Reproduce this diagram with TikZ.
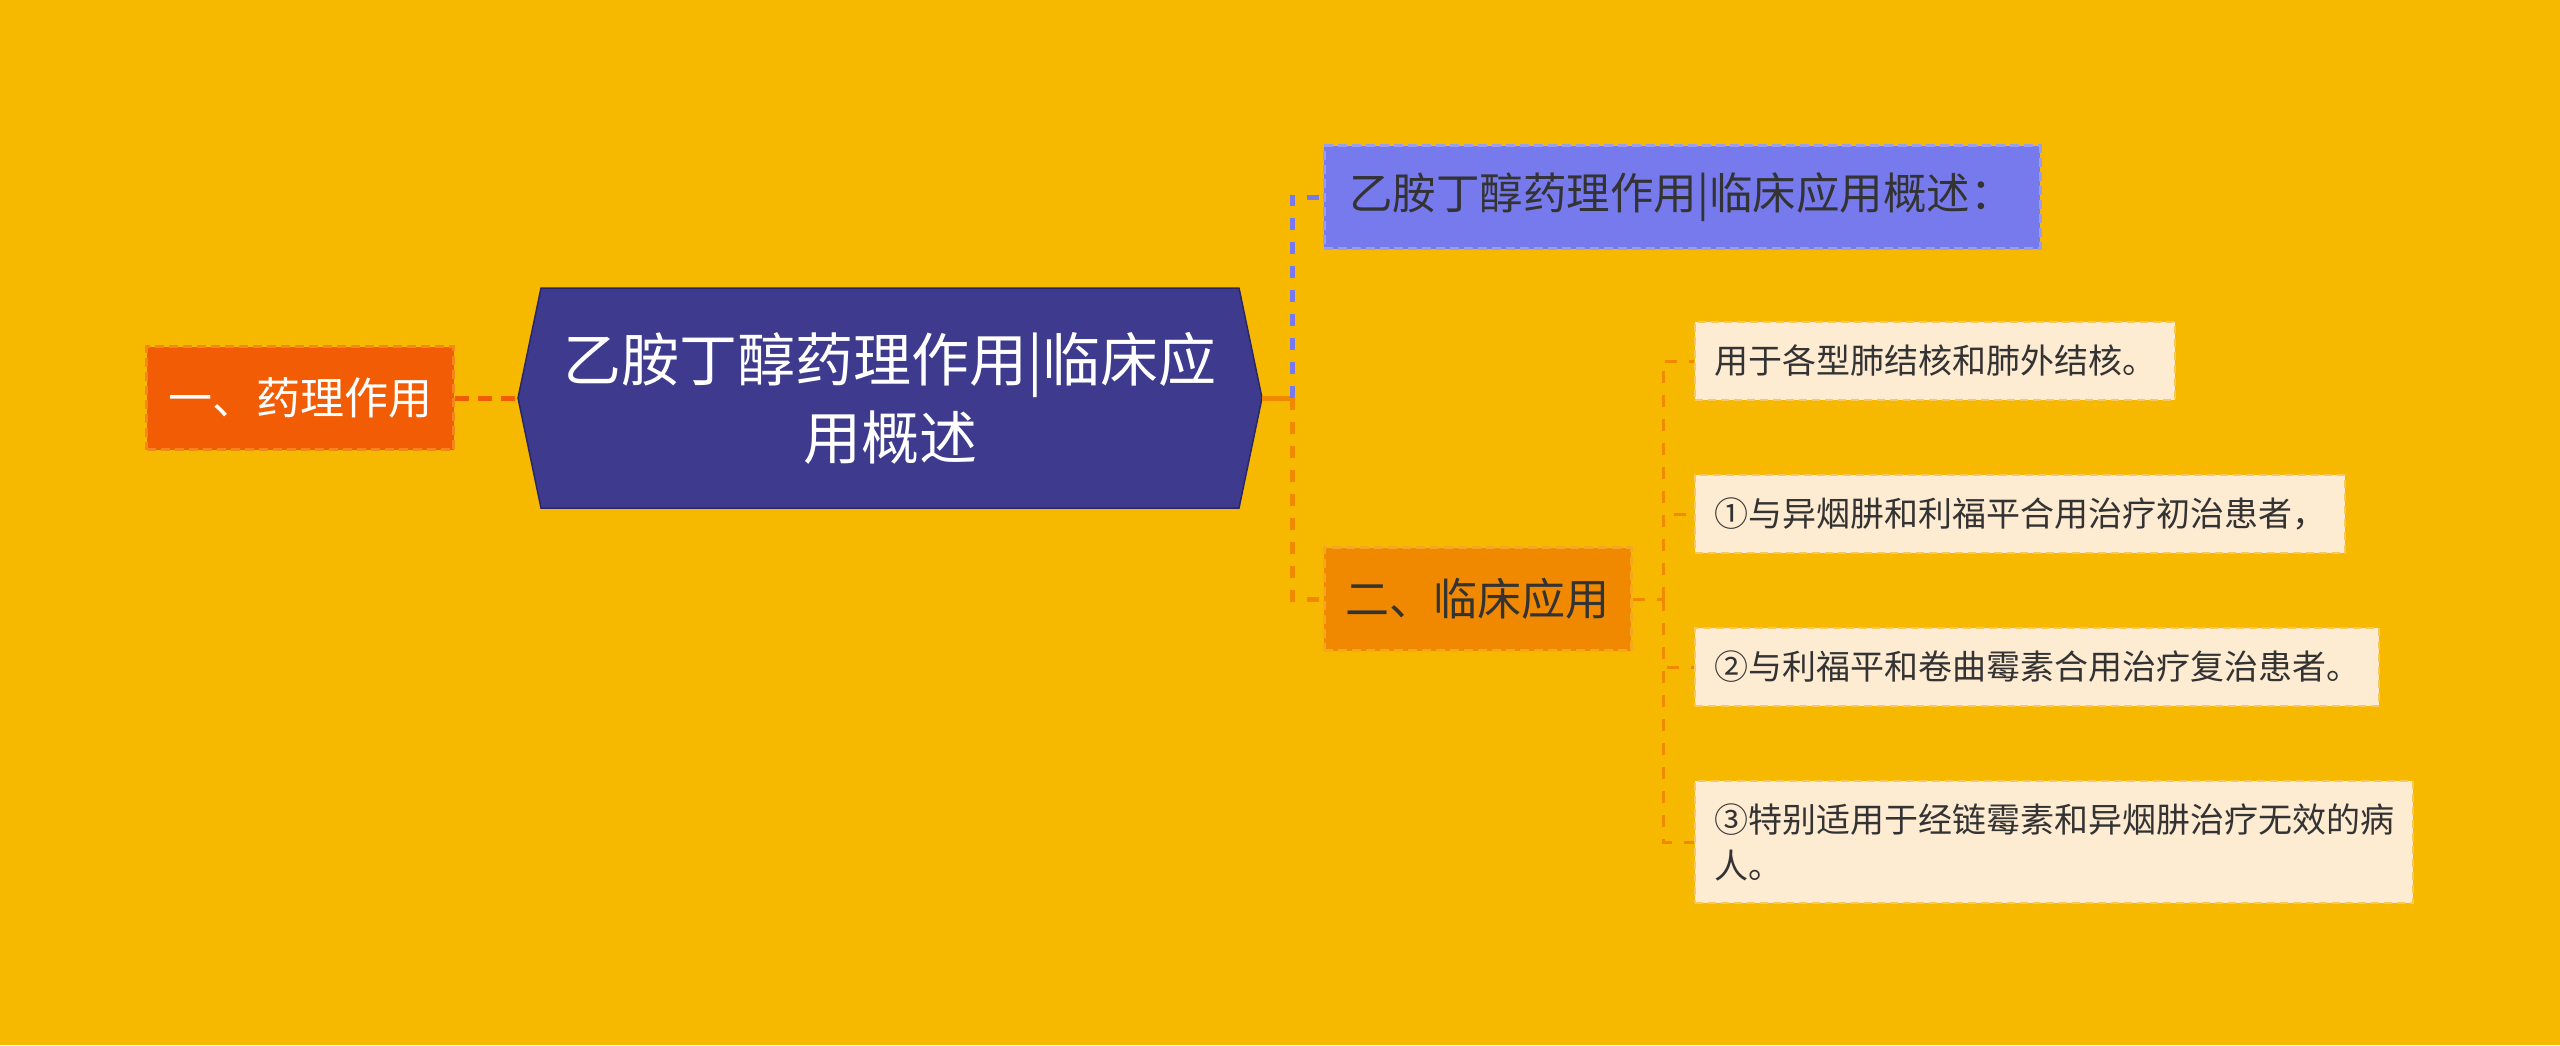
\documentclass[tikz,border=0pt]{standalone}
\usepackage{fontspec}
\newfontfamily\cjk{Noto Sans CJK SC}
\usetikzlibrary{positioning}

\definecolor{bgyellow}{HTML}{F6B900}
\definecolor{redorange}{HTML}{F25C05}
\definecolor{redorangeedge}{HTML}{F5861C}
\definecolor{hubblue}{HTML}{3E3A8D}
\definecolor{hubedge}{HTML}{2A2766}
\definecolor{lilac}{HTML}{777AEC}
\definecolor{lilacedge}{HTML}{9A9CF2}
\definecolor{deeporange}{HTML}{F08800}
\definecolor{deeporangeedge}{HTML}{F5A623}
\definecolor{cream}{HTML}{FDEBD2}
\definecolor{creamedge}{HTML}{F6C85E}
\definecolor{inkdark}{HTML}{333333}

\begin{document}
\begin{tikzpicture}[x=1pt, y=-1pt, node distance=73pt,
    topic/.style={draw=redorangeedge, fill=redorange, line width=2.5pt, dash pattern=on 9pt off 5pt,
        text=white, font=\cjk\fontsize{44}{52}\selectfont, minimum width=307pt, minimum height=103pt, inner sep=0pt},
    clinic/.style={topic, draw=deeporangeedge, fill=deeporange, text=inkdark},
    summary/.style={topic, draw=lilacedge, fill=lilac, text=inkdark, font=\cjk\fontsize{43.5}{50}\selectfont,
        minimum width=716pt, inner xsep=25pt, text width=666pt, align=left},
    leaf/.style={draw=creamedge, fill=cream, line width=2pt, dash pattern=on 8pt off 5pt, text=inkdark,
        font=\cjk\fontsize{34}{46}\selectfont, inner xsep=19pt, inner ysep=0pt, minimum height=78pt, align=left},
    hubtext/.style={text=white, font=\cjk\fontsize{58}{78}\selectfont, align=center},
    redlink/.style={redorange, line width=5pt, dash pattern=on 14pt off 9pt},
    lilaclink/.style={lilac, line width=5pt, dash pattern=on 12pt off 12pt},
    orangelink/.style={deeporange, line width=5pt, dash pattern=on 12pt off 12pt},
    leaflink/.style={deeporange, line width=3pt, dash pattern=on 12pt off 12pt}]

    \fill[bgyellow] (0,0) rectangle (2560,1045);

    \node[topic] (pharma) at (300,398) {一、药理作用};

    \coordinate (hubW) at (518,398);
    \coordinate (hubE) at (1262,398);
    \path[fill=hubblue, draw=hubedge, line width=1.5pt] (hubW) -- (541,288) -- (1239,288) -- (hubE) -- (1239,508) -- (541,508) -- cycle;
    \node[hubtext] (hub) at (890,398) {乙胺丁醇药理作用|临床应\\用概述};

    \coordinate (splitR) at (1292,398);
    \node[summary, anchor=west] (overview) at (1323,197) {乙胺丁醇药理作用|临床应用概述：};
    \node[clinic, anchor=west] (clinical) at (1323,599) {二、临床应用};

    \coordinate (splitC) at (1663,599);
    \node[leaf, anchor=north west] (use1) at (1694,321) {用于各型肺结核和肺外结核。};
    \node[leaf, below=of use1.south west, anchor=north west] (use2) {①与异烟肼和利福平合用治疗初治患者，};
    \node[leaf, below=of use2.south west, anchor=north west] (use3) {②与利福平和卷曲霉素合用治疗复治患者。};
    \node[leaf, below=of use3.south west, anchor=north west, minimum height=122pt] (use4) {③特别适用于经链霉素和异烟肼治疗无效的病\\人。};

    \draw[redlink] (pharma.east) -- (hubW);
    \draw[deeporange, line width=5pt] (hubE) -- (splitR);
    \draw[lilaclink] (splitR) |- (overview.west);
    \draw[orangelink] (splitR) |- (clinical.west);
    \draw[leaflink] (clinical.east) -- (splitC);
    \foreach \n in {1,...,4}
        \draw[leaflink] (splitC) |- (use\n.west);
\end{tikzpicture}
\end{document}
